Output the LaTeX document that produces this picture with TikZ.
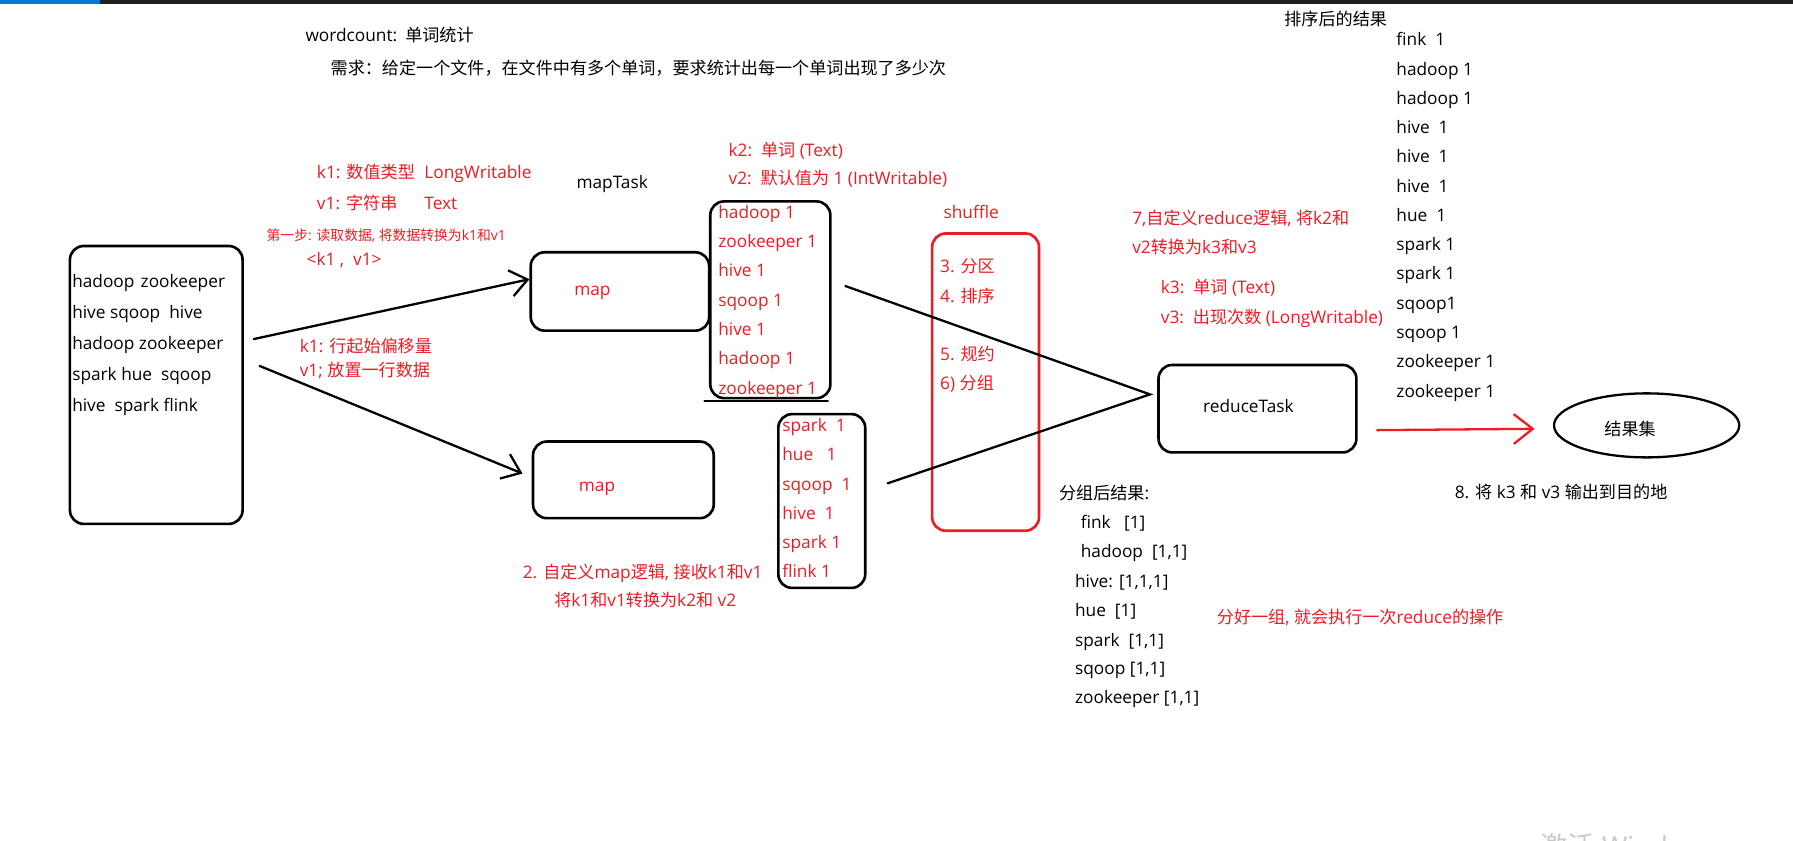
\documentclass[tikz,border=0pt]{standalone}
\usepackage{fontspec}
\setmainfont{Open Sans}
\newfontfamily\cjkfont[Scale=0.99]{Noto Sans CJK SC}
\newcommand\zh[1]{{\cjkfont #1}}
\usetikzlibrary{arrows.meta,shapes.geometric}
\definecolor{pred}{RGB}{237,28,36}
\definecolor{winblue}{RGB}{0,120,215}
\definecolor{bardark}{RGB}{31,31,31}
\definecolor{wmgray}{RGB}{200,200,200}
\tikzset{
  txt/.style={anchor=base west, inner sep=0pt, font=\fontsize{15.1}{18}\selectfont},
  rtxt/.style={txt, text=pred},
  smalltxt/.style={rtxt, font=\fontsize{12.2}{14}\selectfont},
  bx/.style={draw, line width=2.3pt, rounded corners=12pt, inner sep=0pt, anchor=north west},
  conn/.style={line width=2pt, line cap=round},
  barb/.style={conn, -{Straight Barb[length=15pt,width=23pt]}},
  rbarb/.style={conn, draw=pred, -{Straight Barb[length=16.6pt,width=26pt]}},
}
\begin{document}
\begin{tikzpicture}[x=1pt,y=-1pt]
\useasboundingbox (0,0) rectangle (1568,735);
\fill[white] (0,0) rectangle (1568,735);
\fill[bardark] (0,0) rectangle (1568,3.5);
\fill[winblue] (0,0) rectangle (87.5,3.5);

% headings
\node[txt] (title) at (267,36) {wordcount:\hspace{0.12em} \zh{单词统计}};
\node[txt] (req) at (289,65) {\zh{需求：给定一个文件，在文件中有多个单词，要求统计出每一个单词出现了多少次}};

% k1 / v1 notes
\node[rtxt] (k1type) at (277,156) {\makebox[94pt][l]{k1: \zh{数值类型}}LongWritable};
\node[rtxt] (v1type) at (277,183) {\makebox[94pt][l]{v1: \zh{字符串}}Text};
\node[smalltxt] (step1) at (233,210) {\zh{第一步}: \zh{读取数据}, \zh{将数据转换为}k1\zh{和}v1};
\node[rtxt] (kv1) at (268,232) {<k1\ ,\ \ v1>};
\node[rtxt] (k1off) at (262,308) {k1: \zh{行起始偏移量}};
\node[rtxt] (v1line) at (262,329.5) {v1; \zh{放置一行数据}};

% input file box
\node[bx, minimum width=151pt, minimum height=243pt] (leftbox) at (60,214) {};
\foreach \t [count=\i] in {hadoop\hspace{0.1em} zookeeper, hive sqoop\ \ hive, hadoop zookeeper, spark hue\ \ sqoop, hive\ \ spark flink}
  \node[txt] (in\i) at (63,{251.6+27.1*(\i-1)}) {\t};

% map tasks
\node[txt] (maptask) at (504,165) {mapTask};
\node[bx, minimum width=156pt, minimum height=68.5pt] (map1) at (463,219.5) {};
\node[rtxt] (map1t) at (502,258) {map};
\node[bx, minimum width=158pt, minimum height=67pt] (map2) at (465,385) {};
\node[rtxt] (map2t) at (506,430) {map};

% k2 v2
\node[rtxt] (k2) at (637,137) {k2:\ \ \zh{单词} (Text)};
\node[rtxt] (v2) at (637,161.5) {v2:\ \ \zh{默认值为} 1 (IntWritable)};

% map outputs
\node[bx, minimum width=105pt, minimum height=172pt] (out1) at (620,175) {};
\foreach \t [count=\i] in {hadoop 1, zookeeper 1, hive 1, sqoop 1, hive 1, hadoop 1, zookeeper 1}
  \node[rtxt] (o1-\i) at (628,{191+25.6*(\i-1)}) {\t};
\coordinate (ul1) at (616,350.7);
\coordinate (ul2) at (724,350.7);
\draw[conn] (ul1) -- (ul2);

\node[bx, minimum width=76pt, minimum height=152pt] (out2) at (679.5,361) {};
\foreach \t [count=\i] in {spark\ \ 1, hue\ \ \ 1, sqoop\ \ 1, hive\ \ 1, spark 1, flink 1}
  \node[rtxt] (o2-\i) at (684,{377.6+25.5*(\i-1)}) {\t};

\node[rtxt] (step2a) at (457,506) {2. \zh{自定义}map\zh{逻辑}, \zh{接收}k1\zh{和}v1};
\node[rtxt] (step2b) at (484.5,530.6) {\zh{将}k1\zh{和}v1\zh{转换为}k2\zh{和} v2};

% shuffle
\node[rtxt] (shuf) at (825,191) {shuffle};
\node[bx, draw=pred, minimum width=93.5pt, minimum height=260pt] (shufbox) at (814,203) {};
\node[rtxt] (s3) at (822,238.7) {3. \zh{分区}};
\node[rtxt] (s4) at (822,264.6) {4. \zh{排序}};
\node[rtxt] (s5) at (822,315.5) {5. \zh{规约}};
\node[rtxt] (s6) at (822,341) {6) \zh{分组}};

% reduce
\node[rtxt] (r7a) at (990,196.7) {7,\zh{自定义}reduce\zh{逻辑}, \zh{将}k2\zh{和}};
\node[rtxt] (r7b) at (990,222) {v2\zh{转换为}k3\zh{和}v3};
\node[rtxt] (k3) at (1015,257) {k3:\ \ \zh{单词} (Text)};
\node[rtxt] (v3) at (1015,282.5) {v3:\ \ \zh{出现次数} (LongWritable)};
\node[bx, minimum width=173pt, minimum height=76.5pt] (reduce) at (1012,318) {};
\node[txt] (reducet) at (1052,361) {reduceTask};

% grouped result
\node[txt] (grphead) at (926,436.5) {\zh{分组后结果}:};
\node[txt] (g1) at (945,462) {fink\ \ \ [1]};
\node[txt] (g2) at (945,487.5) {hadoop\ \ [1,1]};
\node[txt] (g3) at (940,514) {hive: [1,1,1]};
\node[txt] (g4) at (940,539.5) {hue\ \ [1]};
\node[txt] (g5) at (940,565) {spark\ \ [1,1]};
\node[txt] (g6) at (940,590) {sqoop [1,1]};
\node[txt] (g7) at (940,615) {zookeeper [1,1]};
\node[rtxt] (note) at (1064,545.6) {\zh{分好一组}, \zh{就会执行一次}reduce\zh{的操作}};

% sorted result
\node[txt] (sorthead) at (1123,22) {\zh{排序后的结果}};
\foreach \t [count=\i] in {fink\ \ 1, hadoop 1, hadoop 1, hive\ \ 1, hive\ \ 1, hive\ \ 1, hue\ \ 1, spark 1, spark 1, sqoop1, sqoop 1, zookeeper 1, zookeeper 1}
  \node[txt] (so\i) at (1221,{40+25.6*(\i-1)}) {\t};

% result set
\node[draw, ellipse, line width=2pt, minimum width=162pt, minimum height=56pt, inner sep=0pt] (res) at (1440,372) {};
\node[inner sep=0pt, font=\fontsize{15.1}{18}\selectfont] (rest) at (1425.5,375) {\zh{结果集}};
\node[txt] (out8) at (1272,436) {8. \zh{将} k3 \zh{和} v3 \zh{输出到目的地}};

% connectors
\coordinate (a1s) at (222,296.5);
\draw[barb] (a1s) -- ([yshift=10.75pt]map1.west);
\coordinate (a2s) at (227,320);
\draw[barb] (a2s) -- ([xshift=-8pt,yshift=5.5pt]map2.west);
\coordinate (rtip) at ([xshift=-6.3pt,yshift=12.5pt]reduce.west);
\draw[conn] ([xshift=12pt,yshift=12pt]out1.east) -- (rtip) -- ([xshift=18.5pt,yshift=15.5pt]out2.east);
\draw[rbarb] ([xshift=17pt,yshift=-18.75pt]reduce.east) -- ([xshift=-16pt,yshift=-3pt]res.west);

% watermark (cut off at the bottom edge, as in the screenshot)
\begin{scope}
\clip (0,0) rectangle (1568,735);
\node[anchor=base west, inner sep=0pt, text=wmgray, font=\fontsize{24}{28}\selectfont] (wm) at (1347,749) {\zh{激活} Windows};
\end{scope}
\end{tikzpicture}
\end{document}
